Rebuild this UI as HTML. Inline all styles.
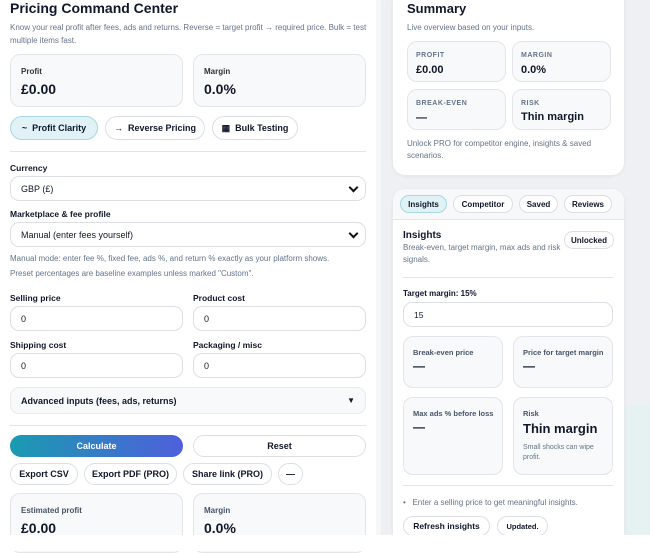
<!DOCTYPE html>
<html><head><meta charset="utf-8"><style>
*{box-sizing:border-box;margin:0;padding:0}
body{width:650px;height:551px;overflow:hidden;background:#fff;font-family:"Liberation Sans",Arial,sans-serif;color:#0f172a;position:relative}
.a{position:absolute}
.bg{left:376px;top:0;width:274px;height:535px;background:#eef0f3}
.bg2{left:625px;top:405px;width:25px;height:130px;background:#e6f1f1}
.card{background:#f8f9fa;border:1px solid #e3e5e8;border-radius:10px}
.wc{background:#fff;border-radius:12px;box-shadow:0 1px 4px rgba(0,0,0,.06)}
.lbl{font-size:8px;font-weight:bold;color:#475569}
.big{font-size:14px;font-weight:bold}
.pill{border:1px solid #dcdfe3;border-radius:14px;background:#fff;font-size:9px;font-weight:bold;display:flex;align-items:center;justify-content:center}
.inp{border:1px solid #dcdfe3;border-radius:9px;background:#fff;font-size:9px;padding-left:10px;display:flex;align-items:center}
.fl{font-size:8.5px;font-weight:bold}
.sm{font-size:8.5px;color:#64748b}
.hr{height:1px;background:#e2e4e7}
.up{font-size:7px;font-weight:bold;color:#64748b;letter-spacing:.5px}
.chev{position:absolute;right:8px;top:7px;width:7px;height:7px;border-right:2px solid #111;border-bottom:2px solid #111;transform:rotate(45deg)}
</style></head><body>
<div class="a bg"></div><div class="a bg2"></div>
<div class="a" style="left:376px;top:0;width:5px;height:535px;background:#f6f7f8"></div>

<div class="a" style="left:10px;top:0px;font-size:14px;font-weight:bold">Pricing Command Center</div>
<div class="a sm" style="left:10px;top:21px;width:366px;line-height:13px;font-size:8px">Know your real profit after fees, ads and returns. Reverse = target profit → required price. Bulk = test multiple items fast.</div>
<div class="a card" style="left:10px;top:54px;width:173px;height:53px"><div class="a lbl" style="left:10px;top:12px;color:#333">Profit</div><div class="a big" style="left:10px;top:26px">£0.00</div></div>
<div class="a card" style="left:193px;top:54px;width:173px;height:53px"><div class="a lbl" style="left:10px;top:12px;color:#333">Margin</div><div class="a big" style="left:10px;top:26px">0.0%</div></div>
<div class="a pill" style="left:10px;top:116px;width:88px;height:24px;background:#e0f2f6;border-color:#a8d8e2">~&nbsp; Profit Clarity</div>
<div class="a pill" style="left:105px;top:116px;width:100px;height:24px">→&nbsp; Reverse Pricing</div>
<div class="a pill" style="left:212px;top:116px;width:86px;height:24px">▦&nbsp; Bulk Testing</div>
<div class="a hr" style="left:10px;top:151px;width:356px"></div>
<div class="a fl" style="left:10px;top:163px">Currency</div>
<div class="a inp" style="left:10px;top:176px;width:356px;height:25px">GBP (£)<span class="chev"></span></div>
<div class="a fl" style="left:10px;top:209px">Marketplace &amp; fee profile</div>
<div class="a inp" style="left:10px;top:222px;width:356px;height:25px">Manual (enter fees yourself)<span class="chev"></span></div>
<div class="a sm" style="left:10px;top:254px;font-size:8px">Manual mode: enter fee %, fixed fee, ads %, and return % exactly as your platform shows.</div>
<div class="a sm" style="left:10px;top:269px;font-size:8px">Preset percentages are baseline examples unless marked "Custom".</div>
<div class="a fl" style="left:10px;top:293px">Selling price</div>
<div class="a fl" style="left:193px;top:293px">Product cost</div>
<div class="a inp" style="left:10px;top:306px;width:173px;height:25px">0</div>
<div class="a inp" style="left:193px;top:306px;width:173px;height:25px">0</div>
<div class="a fl" style="left:10px;top:340px">Shipping cost</div>
<div class="a fl" style="left:193px;top:340px">Packaging / misc</div>
<div class="a inp" style="left:10px;top:353px;width:173px;height:25px">0</div>
<div class="a inp" style="left:193px;top:353px;width:173px;height:25px">0</div>
<div class="a inp" style="left:10px;top:387px;width:356px;height:27px;background:#f8f9fa;border-color:#e8eaed;font-weight:bold;font-size:9px">Advanced inputs (fees, ads, returns)<span class="a" style="right:10px;font-size:8px">▼</span></div>
<div class="a hr" style="left:10px;top:425px;width:356px"></div>
<div class="a pill" style="left:10px;top:435px;width:173px;height:22px;border:none;color:#fff;background:linear-gradient(90deg,#1a9bb0,#4f5fdc)">Calculate</div>
<div class="a pill" style="left:193px;top:435px;width:173px;height:22px">Reset</div>
<div class="a pill" style="left:10px;top:463px;width:68px;height:22px">Export CSV</div>
<div class="a pill" style="left:84px;top:463px;width:93px;height:22px">Export PDF (PRO)</div>
<div class="a pill" style="left:183px;top:463px;width:89px;height:22px">Share link (PRO)</div>
<div class="a pill" style="left:278px;top:463px;width:25px;height:22px">—</div>
<div class="a card" style="left:10px;top:493px;width:173px;height:60px"><div class="a lbl" style="left:10px;top:12px">Estimated profit</div><div class="a big" style="left:10px;top:26px">£0.00</div></div>
<div class="a card" style="left:193px;top:493px;width:173px;height:60px"><div class="a lbl" style="left:10px;top:12px">Margin</div><div class="a big" style="left:10px;top:26px">0.0%</div></div>

<div class="a wc" style="left:393px;top:-12px;width:231px;height:187px"></div>
<div class="a" style="left:407px;top:1px;font-size:13px;font-weight:bold">Summary</div>
<div class="a sm" style="left:407px;top:23px;font-size:8px">Live overview based on your inputs.</div>
<div class="a card" style="left:407px;top:41px;width:99px;height:41px"><div class="a up" style="left:8px;top:10px">PROFIT</div><div class="a" style="left:8px;top:22px;font-size:11px;font-weight:bold">£0.00</div></div>
<div class="a card" style="left:512px;top:41px;width:99px;height:41px"><div class="a up" style="left:8px;top:10px">MARGIN</div><div class="a" style="left:8px;top:22px;font-size:11px;font-weight:bold">0.0%</div></div>
<div class="a card" style="left:407px;top:89px;width:99px;height:41px"><div class="a up" style="left:8px;top:10px">BREAK-EVEN</div><div class="a" style="left:8px;top:22px;font-size:11px;font-weight:bold">—</div></div>
<div class="a card" style="left:512px;top:89px;width:99px;height:41px"><div class="a up" style="left:8px;top:10px">RISK</div><div class="a" style="left:8px;top:21px;font-size:11px;font-weight:bold">Thin margin</div></div>
<div class="a sm" style="left:407px;top:138px;width:210px;line-height:12px;font-size:8px">Unlock PRO for competitor engine, insights &amp; saved scenarios.</div>

<div class="a wc" style="left:393px;top:189px;width:231px;height:346px;border-radius:12px 12px 0 0"></div>
<div class="a" style="left:393px;top:189px;width:231px;height:31px;background:#f7f8f9;border-radius:12px 12px 0 0;border-bottom:1px solid #e2e4e7"></div>
<div class="a pill" style="left:400px;top:195px;width:47px;height:18px;font-size:8px;background:#e0f2f6;border-color:#a8d8e2">Insights</div>
<div class="a pill" style="left:453px;top:195px;width:60px;height:18px;font-size:8px">Competitor</div>
<div class="a pill" style="left:519px;top:195px;width:39px;height:18px;font-size:8px">Saved</div>
<div class="a pill" style="left:564px;top:195px;width:48px;height:18px;font-size:8px">Reviews</div>
<div class="a" style="left:403px;top:230px;font-size:10px;font-weight:bold">Insights</div>
<div class="a pill" style="left:564px;top:231px;width:50px;height:18px;font-size:8px">Unlocked</div>
<div class="a sm" style="left:403px;top:242px;width:160px;line-height:12px;font-size:8px">Break-even, target margin, max ads and risk signals.</div>
<div class="a hr" style="left:403px;top:277px;width:210px"></div>
<div class="a fl" style="left:403px;top:289px;font-size:8px">Target margin: 15%</div>
<div class="a inp" style="left:403px;top:302px;width:210px;height:25px;font-size:8.5px">15</div>
<div class="a card" style="left:403px;top:336px;width:100px;height:52px"><div class="a lbl" style="left:9px;top:11px;font-size:7.5px">Break-even price</div><div class="a" style="left:9px;top:22px;font-size:12px;font-weight:bold">—</div></div>
<div class="a card" style="left:513px;top:336px;width:100px;height:52px"><div class="a lbl" style="left:9px;top:11px;font-size:7.5px">Price for target margin</div><div class="a" style="left:9px;top:22px;font-size:12px;font-weight:bold">—</div></div>
<div class="a card" style="left:403px;top:397px;width:100px;height:78px"><div class="a lbl" style="left:9px;top:11px;font-size:7.5px">Max ads % before loss</div><div class="a" style="left:9px;top:22px;font-size:12px;font-weight:bold">—</div></div>
<div class="a card" style="left:513px;top:397px;width:100px;height:78px"><div class="a lbl" style="left:9px;top:11px;font-size:7.5px">Risk</div><div class="a" style="left:9px;top:23px;font-size:13px;font-weight:bold">Thin margin</div><div class="a sm" style="left:9px;top:45px;width:85px;font-size:7px;line-height:10px">Small shocks can wipe profit.</div></div>
<div class="a hr" style="left:403px;top:485px;width:210px"></div>
<div class="a sm" style="left:403px;top:498px;font-size:8px">•&nbsp;&nbsp; Enter a selling price to get meaningful insights.</div>
<div class="a pill" style="left:403px;top:516px;width:87px;height:20px;font-size:8.5px">Refresh insights</div>
<div class="a pill" style="left:497px;top:516px;width:51px;height:20px;font-size:7.5px">Updated.</div>

<div class="a" style="left:0;top:535px;width:650px;height:16px;background:#fff"></div>
</body></html>
